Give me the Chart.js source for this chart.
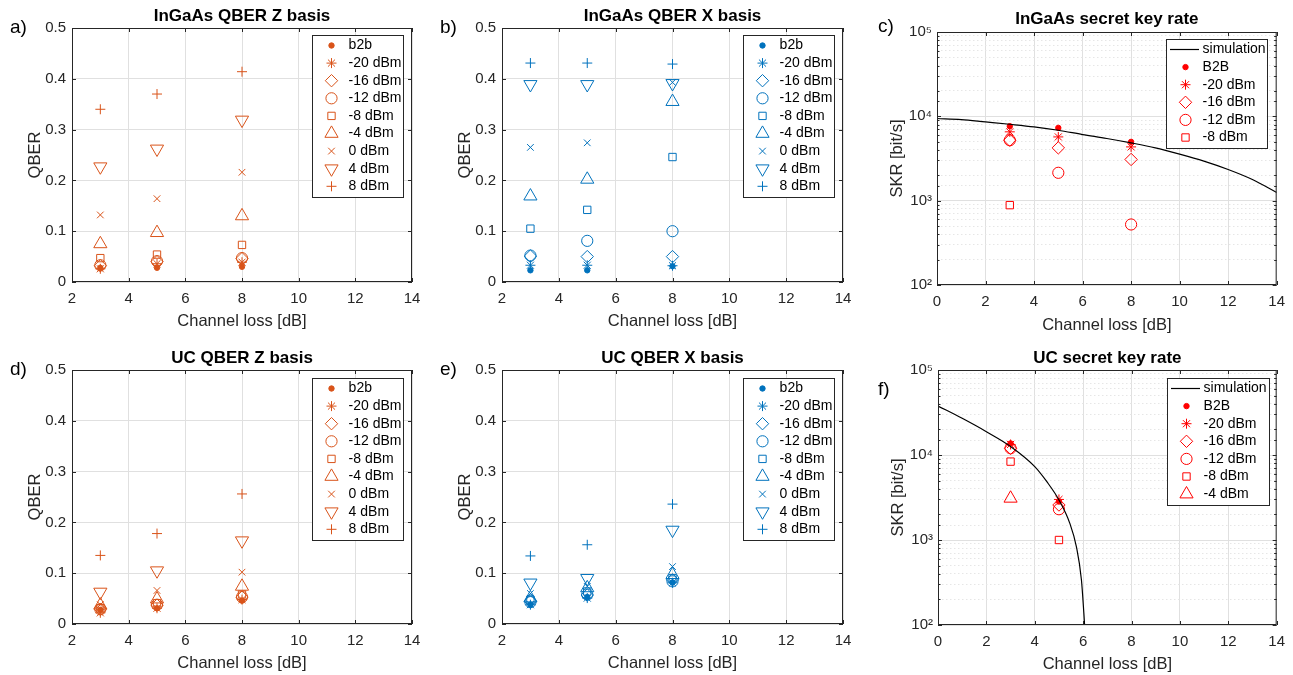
<!DOCTYPE html>
<html>
<head>
<meta charset="utf-8">
<script src="https://cdn.jsdelivr.net/npm/chart.js@4.4.1/dist/chart.umd.min.js"></script>
<style>
html, body { margin: 0; padding: 0; background: #fff; }
#page { position: relative; width: 1293px; height: 675px; overflow: hidden; }
canvas { position: absolute; }
</style>
</head>
<body>
<div id="page">
  <canvas id="pa"></canvas>
  <canvas id="pb"></canvas>
  <canvas id="pc"></canvas>
  <canvas id="pd"></canvas>
  <canvas id="pe"></canvas>
  <canvas id="pf"></canvas>
</div>
<script>
// ---- Data ----

// channel loss [dB] of the measurements
const lossQber = [3, 5, 8];
const lossSkrInGaAs = [3, 5, 8];
const lossSkrUC = [3, 5];

// series names
const qberLabels = ['b2b', '-20 dBm', '-16 dBm', '-12 dBm', '-8 dBm', '-4 dBm', '0 dBm', '4 dBm', '8 dBm'];
const skrLabelsInGaAs = ['B2B', '-20 dBm', '-16 dBm', '-12 dBm', '-8 dBm'];
const skrLabelsUC = ['B2B', '-20 dBm', '-16 dBm', '-12 dBm', '-8 dBm', '-4 dBm'];

// a) InGaAs QBER Z basis, one row per series (same order as qberLabels)
const qberZInGaAs = [
    [0.028, 0.028, 0.030],
    [0.026, 0.036, 0.039],
    [0.032, 0.040, 0.046],
    [0.033, 0.041, 0.047],
    [0.047, 0.054, 0.073],
    [0.075, 0.097, 0.130],
    [0.132, 0.164, 0.216],
    [0.227, 0.262, 0.319],
    [0.340, 0.370, 0.414]
];

// b) InGaAs QBER X basis
const qberXInGaAs = [
    [0.023, 0.023, 0.031],
    [0.033, 0.033, 0.032],
    [0.051, 0.050, 0.050],
    [0.052, 0.081, 0.100],
    [0.105, 0.142, 0.246],
    [0.169, 0.202, 0.355],
    [0.265, 0.274, 0.393],
    [0.389, 0.389, 0.391],
    [0.431, 0.431, 0.429]
];

// d) UC QBER Z basis
const qberZUC = [
    [0.028, 0.031, 0.046],
    [0.022, 0.031, 0.048],
    [0.029, 0.037, 0.053],
    [0.029, 0.038, 0.053],
    [0.031, 0.041, 0.058],
    [0.037, 0.049, 0.074],
    [0.038, 0.066, 0.102],
    [0.063, 0.105, 0.164],
    [0.135, 0.178, 0.256]
];

// e) UC QBER X basis
const qberXUC = [
    [0.038, 0.053, 0.082],
    [0.038, 0.051, 0.081],
    [0.045, 0.057, 0.087],
    [0.043, 0.058, 0.084],
    [0.048, 0.064, 0.090],
    [0.051, 0.071, 0.097],
    [0.060, 0.074, 0.113],
    [0.081, 0.090, 0.185],
    [0.134, 0.156, 0.236]
];

// c) InGaAs secret key rate [bit/s]
const skrInGaAs = [
    [7640, 7300, 4980],
    [6550, 5700, 4340],
    [5210, 4230, 3080],
    [5210, 2140, 522],
    [885, null, null]
];
const simLossInGaAs = [0, 1, 2, 3, 4, 5, 6, 7, 8, 9, 10, 11, 12, 13, 14];
const simSkrInGaAs = [9420, 9160, 8590, 8050, 7500, 6840, 6080, 5460, 4840, 4230, 3560, 2940, 2340, 1780, 1250];

// f) UC secret key rate [bit/s]
const skrUC = [
    [13700, 2850],
    [13300, 3000],
    [12000, 2580],
    [12000, 2300],
    [8360, 1000],
    [3090, null]
];
const simLossUC = [0, 1, 2, 3, 4, 4.5, 5, 5.45, 5.72, 5.93, 6.03, 6.06];
const simSkrUC = [37700, 27000, 18800, 12600, 7300, 4850, 2960, 1570, 836, 338, 137, 100];

// ---- Styles ----
const FONT = '"Liberation Sans", Arial, Helvetica, sans-serif';
const AXIS = '#262626';
const GRID = '#e0e0e0';
const GRID_MINOR = '#e6e6e6';
const ORANGE = '#D95319';
const BLUE = '#0072BD';
const RED = '#FF0000';
const SUP = { 2: '\u00b2', 3: '\u00b3', 4: '\u2074', 5: '\u2075' };

// marker per series (MATLAB: . * d o s ^ x v +)
const markers = [
    { style: 'circle', r: 2.7, rot: 0, filled: true },
    { style: 'star', r: 5, rot: 0 },
    { style: 'rectRot', r: 6.2, rot: 0 },
    { style: 'circle', r: 5.6, rot: 0 },
    { style: 'rect', r: 5.2, rot: 0 },
    { style: 'triangle', r: 7.6, rot: 0 },
    { style: 'crossRot', r: 4.7, rot: 0 },
    { style: 'triangle', r: 7.6, rot: 180 },
    { style: 'cross', r: 5, rot: 0 }
];

Chart.defaults.font.family = FONT;
Chart.defaults.color = AXIS;

function isDecade(v) {
    const e = Math.log10(v);
    return Math.abs(e - Math.round(e)) < 1e-6;
}

// Legend drawn inside the axes, like MATLAB "northeast"
const boxLegend = {
    id: 'boxLegend',
    afterDraw(chart, args, opts) {
        const { ctx, chartArea: a } = chart;
        const sets = chart.data.datasets;
        const left = Math.round(a.right - opts.right - opts.width);
        const top = Math.round(a.top + opts.top);
        const h = Math.round(2 * opts.pad + (sets.length - 1) * opts.rowH);
        ctx.save();
        ctx.fillStyle = '#fff';
        ctx.fillRect(left, top, opts.width, h);
        ctx.strokeStyle = AXIS;
        ctx.lineWidth = 1;
        ctx.strokeRect(left + 0.5, top + 0.5, Math.round(opts.width), h);
        ctx.font = opts.fontSize + 'px ' + FONT;
        ctx.textBaseline = 'middle';
        ctx.textAlign = 'left';
        sets.forEach((ds, i) => {
            const y = top + opts.pad + i * opts.rowH;
            if (ds.showLine) {
                ctx.strokeStyle = ds.borderColor;
                ctx.lineWidth = ds.borderWidth;
                ctx.beginPath();
                ctx.moveTo(left + 4, y);
                ctx.lineTo(left + 33, y);
                ctx.stroke();
            } else {
                ctx.strokeStyle = ds.pointBorderColor;
                ctx.fillStyle = ds.pointBackgroundColor;
                ctx.lineWidth = ds.pointBorderWidth;
                Chart.helpers.drawPoint(ctx, {
                    pointStyle: ds.pointStyle,
                    rotation: ds.pointRotation || 0,
                    radius: ds.pointRadius,
                    borderWidth: ds.pointBorderWidth
                }, left + opts.markerX, y);
            }
            ctx.fillStyle = '#000';
            ctx.fillText(ds.label, left + opts.textX, y);
        });
        ctx.restore();
    }
};

// Axes box with inward ticks
const framePlugin = {
    id: 'frame',
    afterDatasetsDraw(chart) {
        const { ctx, chartArea: a, scales } = chart;
        ctx.save();
        ctx.strokeStyle = AXIS;
        ctx.lineWidth = 1;
        ctx.strokeRect(a.left + 0.5, a.top + 0.5, a.right - a.left - 1, a.bottom - a.top - 1);
        ctx.beginPath();
        scales.x.ticks.forEach(t => {
            const px = Math.round(scales.x.getPixelForValue(t.value)) + 0.5;
            ctx.moveTo(px, a.bottom); ctx.lineTo(px, a.bottom - 4);
            ctx.moveTo(px, a.top); ctx.lineTo(px, a.top + 4);
        });
        const logY = scales.y.type === 'logarithmic';
        scales.y.ticks.forEach(t => {
            const py = Math.round(scales.y.getPixelForValue(t.value)) + 0.5;
            const len = logY && !isDecade(t.value) ? 2.5 : 4;
            ctx.moveTo(a.left, py); ctx.lineTo(a.left + len, py);
            ctx.moveTo(a.right, py); ctx.lineTo(a.right - len, py);
        });
        ctx.stroke();
        ctx.restore();
    }
};

// Panel title and letter
const panelText = {
    id: 'panelText',
    afterDraw(chart, args, opts) {
        const { ctx, chartArea: a } = chart;
        ctx.save();
        ctx.fillStyle = '#000';
        ctx.textBaseline = 'alphabetic';
        ctx.textAlign = 'center';
        ctx.font = 'bold 17px ' + FONT;
        ctx.fillText(opts.title, (a.left + a.right) / 2, a.top - opts.titleGap);
        ctx.textAlign = 'left';
        ctx.font = '19px ' + FONT;
        ctx.fillText(opts.letter, opts.letterX - opts.box.x, opts.letterY - opts.box.y);
        ctx.restore();
    }
};

function markerDatasets(labels, rows, xs, color) {
    return labels.map((label, i) => {
        const m = markers[i];
        return {
            label: label,
            data: xs.map((x, j) => ({ x: x, y: rows[i][j] })),
            pointStyle: m.style,
            pointRadius: m.r,
            pointHoverRadius: m.r,
            pointRotation: m.rot,
            pointBorderColor: color,
            borderColor: color,
            pointBackgroundColor: m.filled ? color : 'rgba(0,0,0,0)',
            backgroundColor: m.filled ? color : 'rgba(0,0,0,0)',
            pointBorderWidth: 1,
            borderWidth: 1,
            showLine: false
        };
    });
}

function simDataset(xs, ys) {
    return {
        label: 'simulation',
        data: xs.map((x, j) => ({ x: x, y: ys[j] })),
        showLine: true,
        borderColor: '#000',
        borderWidth: 1.2,
        pointRadius: 0,
        cubicInterpolationMode: 'monotone',
        fill: false
    };
}

function makePanel(id, p) {
    const cv = document.getElementById(id);
    cv.width = p.box.w;
    cv.height = p.box.h;
    cv.style.left = p.box.x + 'px';
    cv.style.top = p.box.y + 'px';

    const YW = p.yw, XH = p.xh;
    const tickFont = { size: 15 };
    const titleFont = { size: 16.5 };
    const scales = {
        x: {
            type: 'linear',
            min: p.xMin, max: 14,
            ticks: { stepSize: 2, padding: 8, font: tickFont, color: AXIS, maxRotation: 0 },
            grid: { color: GRID, drawTicks: false },
            border: { display: false },
            title: { display: true, text: 'Channel loss [dB]', font: titleFont, color: AXIS, padding: 0 },
            afterFit: s => { s.height = XH; }
        }
    };
    if (p.log) {
        scales.y = {
            type: 'logarithmic',
            min: 100, max: 100000,
            ticks: {
                autoSkip: false, padding: 5, font: tickFont, color: AXIS,
                callback: v => isDecade(v) ? '10' + SUP[Math.round(Math.log10(v))] : ''
            },
            grid: { color: c => isDecade(c.tick.value) ? GRID : 'rgba(0,0,0,0)', drawTicks: false },
            border: { display: false },
            title: { display: true, text: 'SKR [bit/s]', font: titleFont, color: AXIS, padding: 0 },
            afterFit: s => { s.width = YW; }
        };
        scales.yMinor = {
            type: 'logarithmic',
            position: 'left',
            min: 100, max: 100000,
            ticks: { display: false, autoSkip: false },
            grid: { color: c => isDecade(c.tick.value) ? 'rgba(0,0,0,0)' : GRID_MINOR, drawTicks: false },
            border: { display: false, dash: [1.5, 2.5] },
            afterFit: s => { s.width = 0; }
        };
    } else {
        scales.y = {
            type: 'linear',
            min: 0, max: 0.5,
            ticks: { stepSize: 0.1, padding: 6, font: tickFont, color: AXIS },
            grid: { color: GRID, drawTicks: false },
            border: { display: false },
            title: { display: true, text: 'QBER', font: titleFont, color: AXIS, padding: 0 },
            afterFit: s => { s.width = YW; }
        };
    }

    return new Chart(cv, {
        type: 'scatter',
        data: { datasets: p.datasets },
        options: {
            responsive: false,
            animation: false,
            devicePixelRatio: 1,
            events: [],
            layout: {
                padding: {
                    left: p.area.l - p.box.x - YW,
                    top: p.area.t - p.box.y,
                    right: p.box.x + p.box.w - p.area.r,
                    bottom: p.box.y + p.box.h - p.area.b - XH
                }
            },
            scales: scales,
            plugins: {
                legend: { display: false },
                tooltip: { enabled: false },
                title: { display: false },
                boxLegend: Object.assign({ pad: 10.5, rowH: 17.6, markerX: 19.5, textX: 36.6, fontSize: 14 }, p.legend),
                panelText: { title: p.title, letter: p.letter, letterX: p.letterPos[0], letterY: p.letterPos[1], box: p.box, titleGap: p.titleGap || 7.5 }
            }
        },
        plugins: [framePlugin, boxLegend, panelText]
    });
}

makePanel('pa', {
    box: { x: 0, y: 0, w: 430, h: 337 },
    area: { l: 72, t: 28, r: 412, b: 282 },
    yw: 46, xh: 49, xMin: 2,
    title: 'InGaAs QBER Z basis', letter: 'a)', letterPos: [10, 33],
    legend: { right: 9.3, top: 7, width: 91 },
    datasets: markerDatasets(qberLabels, qberZInGaAs, lossQber, ORANGE)
});

makePanel('pb', {
    box: { x: 430, y: 0, w: 435, h: 337 },
    area: { l: 502, t: 28, r: 843, b: 282 },
    yw: 46, xh: 49, xMin: 2,
    title: 'InGaAs QBER X basis', letter: 'b)', letterPos: [440, 33],
    legend: { right: 9.3, top: 7, width: 91 },
    datasets: markerDatasets(qberLabels, qberXInGaAs, lossQber, BLUE)
});

makePanel('pc', {
    box: { x: 865, y: 0, w: 428, h: 337 },
    area: { l: 937, t: 32, r: 1277, b: 285 },
    yw: 49, xh: 50, xMin: 0, log: true, titleGap: 8.4,
    title: 'InGaAs secret key rate', letter: 'c)', letterPos: [878, 32],
    legend: { right: 10, top: 6.7, width: 100.7 },
    datasets: [simDataset(simLossInGaAs, simSkrInGaAs)].concat(markerDatasets(skrLabelsInGaAs, skrInGaAs, lossSkrInGaAs, RED))
});

makePanel('pd', {
    box: { x: 0, y: 337, w: 430, h: 338 },
    area: { l: 72, t: 370, r: 412, b: 624 },
    yw: 46, xh: 49, xMin: 2,
    title: 'UC QBER Z basis', letter: 'd)', letterPos: [10, 375],
    legend: { right: 9, top: 8.3, width: 91 },
    datasets: markerDatasets(qberLabels, qberZUC, lossQber, ORANGE)
});

makePanel('pe', {
    box: { x: 430, y: 337, w: 435, h: 338 },
    area: { l: 502, t: 370, r: 843, b: 624 },
    yw: 46, xh: 49, xMin: 2,
    title: 'UC QBER X basis', letter: 'e)', letterPos: [440, 375],
    legend: { right: 9, top: 8.3, width: 91 },
    datasets: markerDatasets(qberLabels, qberXUC, lossQber, BLUE)
});

makePanel('pf', {
    box: { x: 865, y: 337, w: 428, h: 338 },
    area: { l: 938, t: 370, r: 1277, b: 625 },
    yw: 49, xh: 49, xMin: 0, log: true,
    title: 'UC secret key rate', letter: 'f)', letterPos: [878, 395],
    legend: { right: 7.4, top: 8.3, width: 102 },
    datasets: [simDataset(simLossUC, simSkrUC)].concat(markerDatasets(skrLabelsUC, skrUC, lossSkrUC, RED))
});
</script>
</body>
</html>
